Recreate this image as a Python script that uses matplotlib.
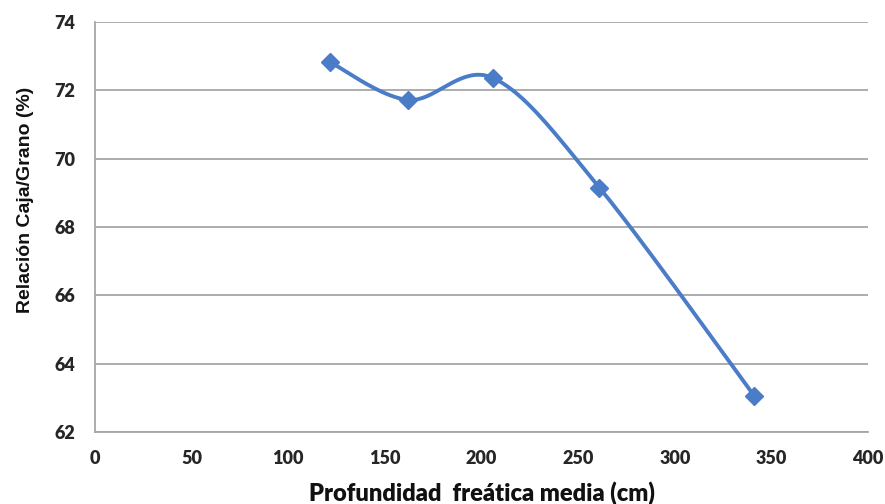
import numpy as np
import matplotlib
matplotlib.use("Agg")
from matplotlib import pyplot as plt

# water table depth (cm) vs husk/grain ratio (%)
depth = [121.5, 162, 206, 261, 341]
ratio = [72.83, 71.72, 72.36, 69.15, 63.06]

x_ticks = [0, 50, 100, 150, 200, 250, 300, 350, 400]
y_ticks = [62, 64, 66, 68, 70, 72, 74]


def smooth(xs, ys, n=40):
    # cubic Bezier through the points, Catmull-Rom style control points
    p = np.column_stack([xs, ys]).astype(float)
    p_ext = np.vstack([p[0], p, p[-1]])
    out = []
    t = np.linspace(0, 1, n)[:, None]
    for i in range(len(p) - 1):
        p0, p1, p2, p3 = p_ext[i], p_ext[i + 1], p_ext[i + 2], p_ext[i + 3]
        c1 = p1 + (p2 - p0) / 6
        c2 = p2 - (p3 - p1) / 6
        seg = ((1 - t) ** 3) * p1 + 3 * ((1 - t) ** 2) * t * c1 \
            + 3 * (1 - t) * t ** 2 * c2 + t ** 3 * p2
        out.append(seg)
    out = np.vstack(out)
    return out[:, 0], out[:, 1]


fig = plt.figure(figsize=(8.85, 5.04), dpi=100)
ax = fig.add_axes([0.1073, 0.1429, 0.8737, 0.8134])

color = "#4a7cc8"
sx, sy = smooth(depth, ratio)
ax.plot(sx, sy, color=color, lw=2.8, solid_capstyle="round", zorder=3)
ax.plot(depth, ratio, "D", color=color, ms=9, zorder=4)

ax.set_xlim(0, 400)
ax.set_ylim(62, 74)
ax.set_xticks(x_ticks)
ax.set_yticks(y_ticks)
ax.yaxis.grid(True, color="#a6a6a6", lw=1.3)
ax.set_axisbelow(True)
ax.tick_params(length=0, labelsize=13, labelcolor="#262626")
ax.tick_params(axis="x", pad=13)
ax.tick_params(axis="y", pad=14)
for lab in ax.get_xticklabels() + ax.get_yticklabels():
    lab.set_fontweight("heavy")
    lab.set_family("Lato")

for side in ["top", "right"]:
    ax.spines[side].set_visible(False)
for side in ["left", "bottom"]:
    ax.spines[side].set_color("#a6a6a6")
    ax.spines[side].set_linewidth(1.3)

ax.set_xlabel("Profundidad  freática media (cm)", fontsize=17,
              fontweight="heavy", family="Lato", labelpad=10, color="#111111")
ax.set_ylabel("Relación Caja/Grano (%)", fontsize=14,
              fontweight="bold", family="Liberation Sans",
              color="#111111")
ax.yaxis.set_label_coords(-0.079, 0.566)

fig.savefig("out.png", dpi=100)
